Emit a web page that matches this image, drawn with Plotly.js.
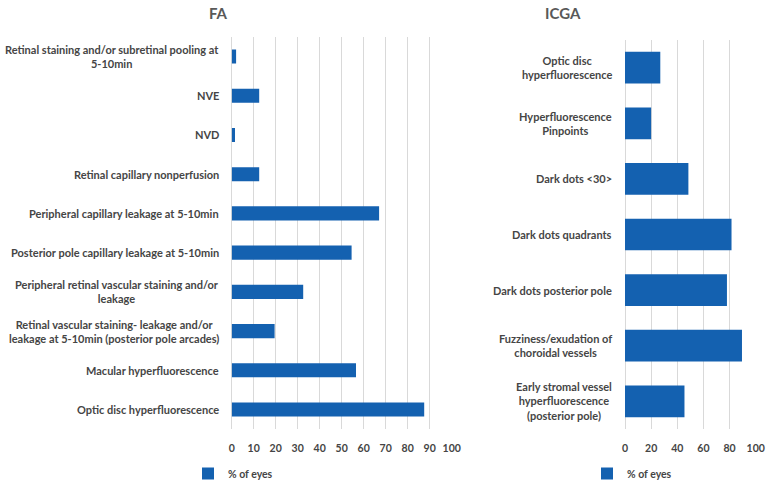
<!DOCTYPE html>
<html>
<head>
<meta charset="utf-8">
<script src="https://cdn.plot.ly/plotly-3.0.1.min.js"></script>
<style>html,body{margin:0;padding:0;background:#fff;}#chart{width:776px;height:488px;}</style>
</head>
<body>
<div id="chart"></div>
<script>
// ---- Data (top-to-bottom order as shown) ----
var faCategories = [
  "Retinal staining and/or subretinal pooling at 5-10min",
  "NVE",
  "NVD",
  "Retinal capillary nonperfusion",
  "Peripheral capillary leakage at 5-10min",
  "Posterior pole capillary leakage at 5-10min",
  "Peripheral retinal vascular staining and/or leakage",
  "Retinal vascular staining- leakage and/or leakage at 5-10min (posterior pole arcades)",
  "Macular hyperfluorescence",
  "Optic disc hyperfluorescence"
];
var faLabels = [
  "Retinal staining and/or subretinal pooling at<br>5-10min",
  "NVE",
  "NVD",
  "Retinal capillary nonperfusion",
  "Peripheral capillary leakage at 5-10min",
  "Posterior pole capillary leakage at 5-10min",
  "Peripheral retinal vascular staining and/or<br>leakage",
  "Retinal vascular staining- leakage and/or<br>leakage at 5-10min (posterior pole arcades)",
  "Macular hyperfluorescence",
  "Optic disc hyperfluorescence"
];
var faValues = [2, 12.5, 1.5, 12.5, 67, 54.5, 32.5, 19.5, 56.5, 87.5];

var icgaCategories = [
  "Optic disc hyperfluorescence",
  "Hyperfluorescence Pinpoints",
  "Dark dots <30>",
  "Dark dots quadrants",
  "Dark dots posterior pole",
  "Fuzziness/exudation of choroidal vessels",
  "Early stromal vessel hyperfluorescence (posterior pole)"
];
var icgaLabels = [
  "Optic disc<br>hyperfluorescence",
  "Hyperfluorescence<br>Pinpoints",
  "Dark dots &lt;30&gt;",
  "Dark dots quadrants",
  "Dark dots posterior pole",
  "Fuzziness/exudation of<br>choroidal vessels",
  "Early stromal vessel<br>hyperfluorescence<br>(posterior pole)"
];
var icgaValues = [27, 20, 48.5, 81.5, 78, 89.5, 45.5];

var seriesName = "% of eyes";
var panelTitles = ["FA", "ICGA"];
var faTicks = [0, 10, 20, 30, 40, 50, 60, 70, 80, 90, 100];
var icgaTicks = [0, 20, 40, 60, 80, 100];

// ---- Styling ----
var BAR = "#1461b0";
var GRID = "#d9d9d9";
var TXT = "#454545";
var FONT = "Lato, 'Open Sans', sans-serif";
var W = 776, H = 488;

var traces = [
  {type: "bar", orientation: "h", x: faValues, y: faCategories, name: seriesName,
   xaxis: "x", yaxis: "y", width: 0.36, marker: {color: BAR}, legend: "legend", hoverinfo: "x+y"},
  {type: "bar", orientation: "h", x: icgaValues, y: icgaCategories, name: seriesName,
   xaxis: "x2", yaxis: "y2", width: 0.57, marker: {color: BAR}, legend: "legend2", hoverinfo: "x+y"}
];

var annotations = [];
faCategories.forEach(function (c, i) {
  annotations.push({xref: "paper", yref: "y", x: 221 / W, y: c, xanchor: "right", yanchor: "middle",
    align: "center", showarrow: false, text: faLabels[i],
    font: {family: FONT, size: 11, color: TXT, weight: "bold"}});
});
icgaCategories.forEach(function (c, i) {
  annotations.push({xref: "paper", yref: "y2", x: 614 / W, y: c, xanchor: "right", yanchor: "middle",
    align: "center", showarrow: false, text: icgaLabels[i],
    font: {family: FONT, size: 11, color: TXT, weight: "bold"}});
});
annotations.push({xref: "paper", yref: "paper", x: 218 / W, y: (H - 13) / H, xanchor: "center", yanchor: "middle",
  showarrow: false, text: panelTitles[0], font: {family: FONT, size: 15, color: "#595959", weight: "bold"}});
annotations.push({xref: "paper", yref: "paper", x: 563 / W, y: (H - 13) / H, xanchor: "center", yanchor: "middle",
  showarrow: false, text: panelTitles[1], font: {family: FONT, size: 15, color: "#595959", weight: "bold"}});

var xCommon = {
  showgrid: true, gridcolor: GRID, gridwidth: 1, zeroline: true, zerolinecolor: GRID, zerolinewidth: 1,
  showline: false, ticks: "", ticklabelstandoff: 11, fixedrange: true,
  tickfont: {family: FONT, size: 10.5, color: TXT, weight: "bold"}
};

var layout = {
  width: W, height: H,
  margin: {l: 0, r: 0, t: 0, b: 0},
  paper_bgcolor: "#fff", plot_bgcolor: "#fff",
  showlegend: true,
  xaxis: Object.assign({}, xCommon, {domain: [231.7 / W, 451.7 / W], range: [0, 100], tickvals: faTicks, anchor: "y"}),
  yaxis: {domain: [(H - 430) / H, (H - 37) / H], type: "category", categoryorder: "array", categoryarray: faCategories,
    autorange: "reversed", showticklabels: false, showgrid: false, zeroline: false, showline: false, anchor: "x", fixedrange: true},
  xaxis2: Object.assign({}, xCommon, {domain: [625 / W, 755.7 / W], range: [0, 100], tickvals: icgaTicks, anchor: "y2"}),
  yaxis2: {domain: [(H - 430) / H, (H - 40) / H], type: "category", categoryorder: "array", categoryarray: icgaCategories,
    autorange: "reversed", showticklabels: false, showgrid: false, zeroline: false, showline: false, anchor: "x2", fixedrange: true},
  legend: {x: 188 / W, y: (H - 474) / H, xanchor: "left", yanchor: "middle", orientation: "h",
    font: {family: FONT, size: 10.5, color: TXT, weight: "bold"}, bgcolor: "rgba(0,0,0,0)", itemwidth: 30},
  legend2: {x: 587 / W, y: (H - 474) / H, xanchor: "left", yanchor: "middle", orientation: "h",
    font: {family: FONT, size: 10.5, color: TXT, weight: "bold"}, bgcolor: "rgba(0,0,0,0)", itemwidth: 30},
  annotations: annotations
};

Plotly.newPlot("chart", traces, layout, {displayModeBar: false, staticPlot: false});
</script>
</body>
</html>
